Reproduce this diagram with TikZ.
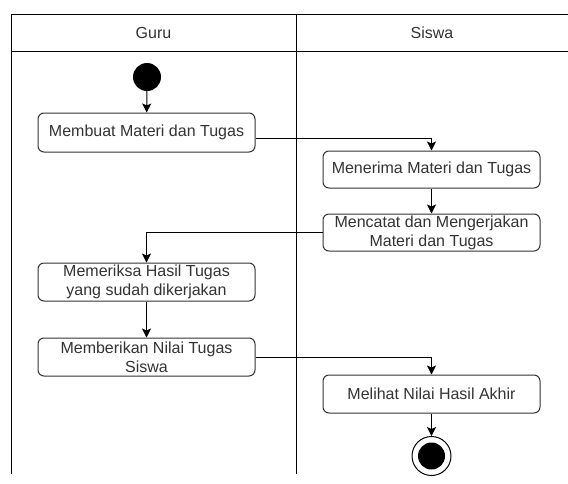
\documentclass[tikz,border=0pt]{standalone}
\usepackage{fontspec}
\setmainfont{Liberation Sans}
\usetikzlibrary{arrows.meta, positioning, calc}

\definecolor{garis}{HTML}{333333}

\begin{document}
\begin{tikzpicture}[x=1pt, y=-1pt, font=\fontsize{16}{19}\selectfont,
  aktivitas/.style={draw=garis, line width=1pt, rounded corners=6pt, text=garis,
    minimum width=217pt, minimum height=38pt, inner sep=0pt, align=center},
  panah/.style={draw=black, line width=1pt, -{Stealth[length=9pt, width=9pt, inset=2pt]}},
  lajur/.style={draw=black, line width=1pt}]

\useasboundingbox[fill=white] (0,0) rectangle (568,483);

% Koordinaten Lajur
\coordinate (L1) at (11,14);
\coordinate (L2) at (568,14);
\coordinate (L3) at (11,51);
\coordinate (L4) at (568,51);
\coordinate (L5) at (296,14);
\coordinate (L6) at (296,474);
\coordinate (L7) at (11,474);

\draw[lajur] (L1) -- (L2);
\draw[lajur] (L3) -- (L4);
\draw[lajur] (L1) -- (L7);
\draw[lajur] (L5) -- (L6);

% Judul
\node[text=garis] (guru) at (153.5,32.5) {Guru};
\node[text=garis] (siswa) at (432,32.5) {Siswa};

% Awal
\node[circle, fill=black, minimum size=28pt, inner sep=0pt] (s) at (147,77) {};

% Aktivitas
\node[aktivitas, minimum height=39pt] (a1) at (146.5,132.5) {Membuat Materi dan Tugas};
\node[aktivitas, minimum height=37pt] (a2) at (431.5,169.5) {Menerima Materi dan Tugas};
\node[aktivitas, minimum height=37pt] (a3) at (431.5,232.5) {Mencatat dan Mengerjakan\\Materi dan Tugas};
\node[aktivitas] (a4) at (146.5,282) {Memeriksa Hasil Tugas\\yang sudah dikerjakan};
\node[aktivitas] (a5) at (146.5,357) {Memberikan Nilai Tugas\\Siswa};
\node[aktivitas] (a6) at (431.5,394) {Melihat Nilai Hasil Akhir};

% Akhir
\node[circle, draw=black, line width=1pt, minimum size=39pt, inner sep=0pt,
  path picture={\fill[black] (path picture bounding box.center) circle (13.5pt);}] (e) at (431.5,456) {};

% Panah
\draw[panah] (s) -- (a1);
\draw[panah] ([yshift=-6pt]a1.east) -| (a2.north);
\draw[panah] (a2) -- (a3);
\draw[panah] (a3.west) -| (a4.north);
\draw[panah] (a4) -- (a5);
\draw[panah] (a5.east) -| (a6.north);
\draw[panah] (a6) -- (e);

\end{tikzpicture}
\end{document}
